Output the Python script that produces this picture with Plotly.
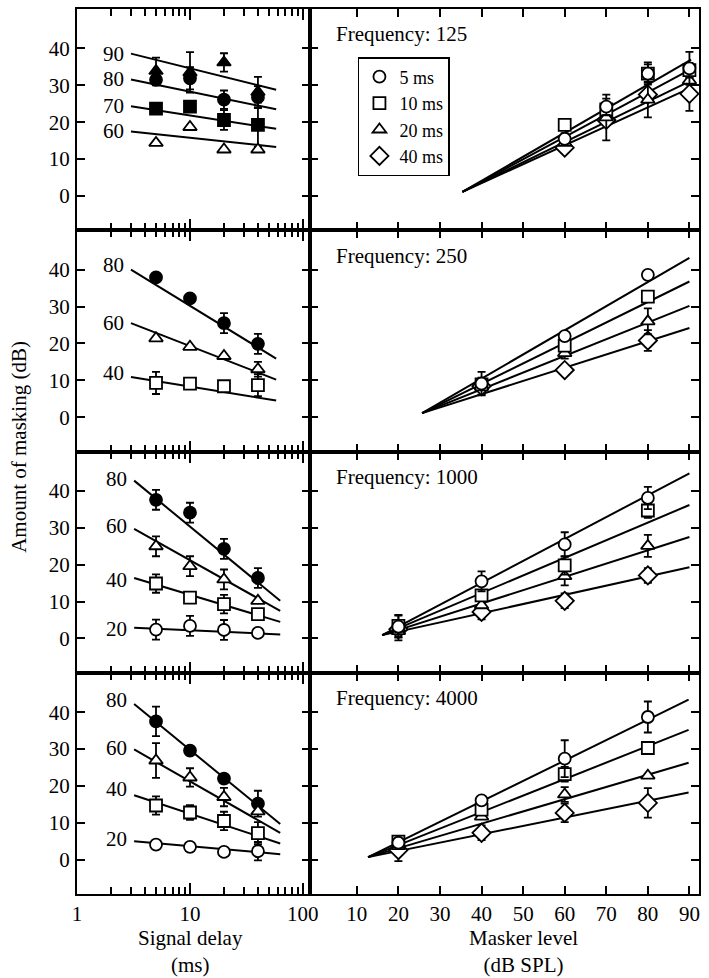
import math
import plotly.graph_objects as go
from plotly.subplots import make_subplots

FONT = "Liberation Serif"
W, H = 709, 978
ML, MR, MT, MB = 77, 1, 9, 84

# ---------------- data ----------------
delays = [5, 10, 20, 40]                     # signal delay (ms)
delay_names = ["5 ms", "10 ms", "20 ms", "40 ms"]
frequencies = [125, 250, 1000, 4000]

# Left panels: amount of masking vs signal delay, one series per masker level
r1_levels = [90, 80, 70, 60]
r1_m90 = [33.9, 33.5, 36.2, 28.2]; r1_e90 = [3.6, 5.5, 2.5, 4.1]
r1_m80 = [31.5, 31.9, 26.1, 26.8]; r1_e80 = [1.5, 3.0, 2.5, 3.0]
r1_m70 = [23.7, 24.2, 20.6, 19.3]; r1_e70 = [1.0, 1.0, 2.7, 6.0]
r1_m60 = [14.4, 18.7, 12.6, 12.6]; r1_e60 = [0, 0, 0, 0]
r1_fit_a = [38.6, 31.6, 24.3, 17.5]
r1_fit_b = [28.8, 23.5, 18.2, 13.3]
r1_lab = [38.6, 31.6, 24.5, 17.6]

r2_levels = [80, 60, 40]
r2_m80 = [37.9, 32.2, 25.5, 19.9]; r2_e80 = [0, 0, 2.7, 2.7]
r2_m60 = [21.4, 19.1, 16.6, 13.0]; r2_e60 = [0, 0, 0, 2.0]
r2_m40 = [9.3, 9.1, 8.4, 8.7];     r2_e40 = [3.0, 0, 0, 3.0]
r2_fit_a = [40.0, 25.5, 10.9]
r2_fit_b = [15.9, 10.2, 4.5]
r2_lab = [41.2, 25.5, 11.9]

r3_levels = [80, 60, 40, 20]
r3_m80 = [37.6, 34.1, 24.3, 16.4]; r3_e80 = [2.7, 2.7, 2.7, 2.7]
r3_m60 = [25.0, 19.6, 16.0, 10.2]; r3_e60 = [2.7, 2.7, 2.7, 0]
r3_m40 = [14.9, 11.1, 9.3, 6.6];   r3_e40 = [2.5, 0, 2.5, 0]
r3_m20 = [2.4, 3.4, 2.3, 1.5];     r3_e20 = [2.7, 2.7, 2.7, 0]
r3_fit_a = [42.8, 29.7, 16.4, 2.9]
r3_fit_b = [10.2, 7.5, 4.5, 1.1]
r3_lab = [43.2, 30.6, 15.9, 2.7]

r4_levels = [80, 60, 40, 20]
r4_m80 = [37.5, 29.6, 22.0, 15.2]; r4_e80 = [4.0, 0, 0, 3.5]
r4_m60 = [26.9, 22.3, 17.0, 13.1]; r4_e60 = [4.7, 2.5, 2.5, 0]
r4_m40 = [14.7, 12.8, 10.5, 7.2];  r4_e40 = [2.5, 2.0, 2.5, 3.0]
r4_m20 = [4.1, 3.5, 2.1, 2.3];     r4_e20 = [0, 0, 0, 2.5]
r4_fit_a = [42.2, 29.9, 17.5, 5.0]
r4_fit_b = [9.7, 7.3, 4.4, 1.5]
r4_lab = [43.4, 30.3, 19.3, 5.5]

fit_x_upper = [3.0, 58.0]
fit_x_lower = [3.2, 63.0]

# Right panels: amount of masking vs masker level, one series per delay
r1_masker = [60, 70, 80, 90]
r1_d5 = [15.5, 24.2, 33.2, 34.6];  r1_s5 = [1.5, 2.2, 2.5, 4.5]
r1_d10 = [19.3, 23.5, 33.2, 34.1]; r1_s10 = [0, 1.5, 3.0, 2.0]
r1_d20 = [14.4, 21.3, 26.1, 31.3]; r1_s20 = [0, 6.2, 4.8, 0]
r1_d40 = [13.1, 20.6, 27.5, 27.7]; r1_s40 = [0, 0, 0, 4.6]
r1_pivot = [35.4, 1.1]; r1_end_x = 90.4
r1_end = [37.0, 34.4, 31.3, 29.4]

r2_masker = [40, 60, 80]
r2_d5 = [9.1, 22.0, 38.6];  r2_s5 = [3.2, 0, 0]
r2_d10 = [8.9, 19.4, 32.7]; r2_s10 = [0, 0, 0]
r2_d20 = [8.4, 17.4, 26.0]; r2_s20 = [0, 1.5, 3.5]
r2_d40 = [8.4, 12.8, 20.8]; r2_s40 = [2.3, 0, 2.8]
r2_pivot = [25.7, 1.1]; r2_end_x = 90.0
r2_end = [43.2, 36.8, 30.2, 24.2]

r3_masker = [20, 40, 60, 80]
r3_d5 = [3.2, 15.5, 25.5, 38.1];  r3_s5 = [3.0, 2.7, 3.3, 3.0]
r3_d10 = [3.4, 11.7, 19.8, 34.7]; r3_s10 = [3.0, 0, 2.5, 2.0]
r3_d20 = [2.0, 9.0, 16.9, 25.1];  r3_s20 = [2.5, 0, 2.5, 3.0]
r3_d40 = [2.5, 7.2, 10.2, 17.1];  r3_s40 = [0, 2.0, 2.0, 2.0]
r3_pivot = [16.1, 0.9]; r3_end_x = 90.0
r3_end = [44.8, 36.2, 27.5, 19.3]

r4_masker = [20, 40, 60, 80]
r4_d5 = [4.6, 16.1, 27.4, 38.7];  r4_s5 = [0, 0, 5.0, 4.2]
r4_d10 = [4.9, 13.6, 23.2, 30.3]; r4_s10 = [0, 0, 2.0, 0]
r4_d20 = [3.7, 11.7, 17.7, 22.8]; r4_s20 = [0, 0, 2.0, 0]
r4_d40 = [2.6, 7.3, 12.7, 15.4];  r4_s40 = [3.0, 2.0, 2.5, 4.0]
r4_pivot = [12.7, 0.7]; r4_end_x = 89.8
r4_end = [43.4, 35.2, 26.3, 18.2]

# ---------------- styles ----------------
level_style = {
    90: ("triangle-up", "black"),
    80: ("circle", "black"),
    70: ("square", "black"),
    60: ("triangle-up", "white"),
    40: ("square", "white"),
    20: ("circle", "white"),
}
delay_style = [("circle", 12), ("square", 12), ("triangle-up", 12), ("diamond", 14)]

left_rows = [
    (r1_levels, [(r1_m90, r1_e90), (r1_m80, r1_e80), (r1_m70, r1_e70), (r1_m60, r1_e60)],
     r1_fit_a, r1_fit_b, r1_lab, fit_x_upper),
    (r2_levels, [(r2_m80, r2_e80), (r2_m60, r2_e60), (r2_m40, r2_e40)],
     r2_fit_a, r2_fit_b, r2_lab, fit_x_upper),
    (r3_levels, [(r3_m80, r3_e80), (r3_m60, r3_e60), (r3_m40, r3_e40), (r3_m20, r3_e20)],
     r3_fit_a, r3_fit_b, r3_lab, fit_x_lower),
    (r4_levels, [(r4_m80, r4_e80), (r4_m60, r4_e60), (r4_m40, r4_e40), (r4_m20, r4_e20)],
     r4_fit_a, r4_fit_b, r4_lab, fit_x_lower),
]
right_rows = [
    (r1_masker, [(r1_d5, r1_s5), (r1_d10, r1_s10), (r1_d20, r1_s20), (r1_d40, r1_s40)],
     r1_pivot, r1_end_x, r1_end),
    (r2_masker, [(r2_d5, r2_s5), (r2_d10, r2_s10), (r2_d20, r2_s20), (r2_d40, r2_s40)],
     r2_pivot, r2_end_x, r2_end),
    (r3_masker, [(r3_d5, r3_s5), (r3_d10, r3_s10), (r3_d20, r3_s20), (r3_d40, r3_s40)],
     r3_pivot, r3_end_x, r3_end),
    (r4_masker, [(r4_d5, r4_s5), (r4_d10, r4_s10), (r4_d20, r4_s20), (r4_d40, r4_s40)],
     r4_pivot, r4_end_x, r4_end),
]

fig = make_subplots(rows=4, cols=2, column_widths=[236, 395],
                    horizontal_spacing=0, vertical_spacing=0)

ebar = dict(type="data", color="black", thickness=1.8, width=4, visible=True)
annotations = []
tfont = dict(family=FONT, size=21, color="black")

for i, (levels, series, fa, fb, labs, fx) in enumerate(left_rows):
    row = i + 1
    xref = "x" if row == 1 else f"x{(row - 1) * 2 + 1}"
    yref = "y" if row == 1 else f"y{(row - 1) * 2 + 1}"
    for lev, a, b, ly in zip(levels, fa, fb, labs):
        fig.add_trace(go.Scatter(x=fx, y=[a, b], mode="lines",
                                 line=dict(color="black", width=2),
                                 showlegend=False, hoverinfo="skip"), row=row, col=1)
        annotations.append(dict(x=math.log10(fx[0]), y=ly, xref=xref, yref=yref,
                                text=str(lev), showarrow=False, xanchor="right",
                                yanchor="middle", xshift=-5, font=tfont))
    for lev, (vals, errs) in zip(levels, series):
        sym, fill = level_style[lev]
        fig.add_trace(go.Scatter(x=delays, y=vals, mode="markers",
                                 marker=dict(symbol=sym, size=12, color=fill,
                                             line=dict(color="black", width=1.8)),
                                 error_y=dict(array=errs, **ebar),
                                 showlegend=False, name=f"{lev} dB"), row=row, col=1)

for i, (masker, series, piv, ex, ends) in enumerate(right_rows):
    row = i + 1
    for end in ends:
        fig.add_trace(go.Scatter(x=[piv[0], ex], y=[piv[1], end], mode="lines",
                                 line=dict(color="black", width=2),
                                 showlegend=False, hoverinfo="skip"), row=row, col=2)
    # draw longest delay first so the 5 ms circles sit on top
    for k in reversed(range(len(series))):
        vals, errs = series[k]
        sym, sz = delay_style[k]
        fig.add_trace(go.Scatter(x=masker, y=vals, mode="markers",
                                 marker=dict(symbol=sym, size=sz, color="white",
                                             line=dict(color="black", width=1.8)),
                                 error_y=dict(array=errs, **ebar),
                                 name=delay_names[k], legendrank=k + 1,
                                 showlegend=(row == 1)),
                      row=row, col=2)
    n = (row - 1) * 2 + 2
    annotations.append(dict(x=0.063, y=0.885, xref=f"x{n} domain", yref=f"y{n} domain",
                            text=f"Frequency: {frequencies[i]}", showarrow=False,
                            xanchor="left", yanchor="middle", font=tfont))

# axis titles
pw = W - ML - MR
ph = H - MT - MB
annotations.append(dict(x=(18 - ML) / pw, y=1 - (447 - MT) / ph, xref="paper", yref="paper",
                        text="Amount of masking (dB)", textangle=-90, showarrow=False,
                        xanchor="center", yanchor="middle", font=tfont))
for txt, cx in [("Signal delay<br>(ms)", 192), ("Masker level<br>(dB SPL)", 530)]:
    annotations.append(dict(x=(cx - ML) / pw, y=1 - (951 - MT) / ph, xref="paper", yref="paper",
                            text=txt, showarrow=False, xanchor="center", yanchor="middle",
                            borderpad=0, font=tfont))

axis_common = dict(showline=True, linecolor="black", linewidth=2, mirror="ticks",
                   ticks="inside", tickcolor="black", tickwidth=1.5,
                   showgrid=False, zeroline=False, tickfont=tfont)

minor_vals = [2, 3, 4, 5, 6, 7, 8, 9, 20, 30, 40, 50, 60, 70, 80, 90]
for row in range(1, 5):
    fig.update_xaxes(type="log", range=[-0.001, 2.06], tickvals=[1, 10, 100],
                     ticktext=["1", "10", "100"], ticklen=11,
                     minor=dict(tickvals=minor_vals, ticks="inside", ticklen=7,
                                tickwidth=1.5, tickcolor="black"),
                     showticklabels=(row == 4), ticklabelstandoff=0,
                     row=row, col=1, **axis_common)
    fig.update_xaxes(range=[-1.35, 92.3], tickvals=[10, 20, 30, 40, 50, 60, 70, 80, 90],
                     ticklen=8, showticklabels=(row == 4), ticklabelstandoff=0,
                     row=row, col=2, **axis_common)
    fig.update_yaxes(range=[-9.3, 50.7], tickvals=[0, 10, 20, 30, 40], ticklen=8,
                     showticklabels=True, ticklabelstandoff=1, row=row, col=1, **axis_common)
    fig.update_yaxes(range=[-9.3, 50.7], tickvals=[0, 10, 20, 30, 40], ticklen=8,
                     showticklabels=False, row=row, col=2, **axis_common)

fig.update_layout(
    width=W, height=H,
    margin=dict(l=ML, r=MR, t=MT, b=MB, pad=0),
    paper_bgcolor="white", plot_bgcolor="white",
    font=dict(family=FONT, size=21, color="black"),
    annotations=annotations,
    legend=dict(x=(362 - ML) / pw, y=1 - (57 - MT) / ph, xanchor="left", yanchor="top",
                bordercolor="black", borderwidth=1.5, bgcolor="white",
                font=dict(family=FONT, size=18, color="black"),
                tracegroupgap=0, itemwidth=30, traceorder="normal"),
)

fig.write_html("out.html")
